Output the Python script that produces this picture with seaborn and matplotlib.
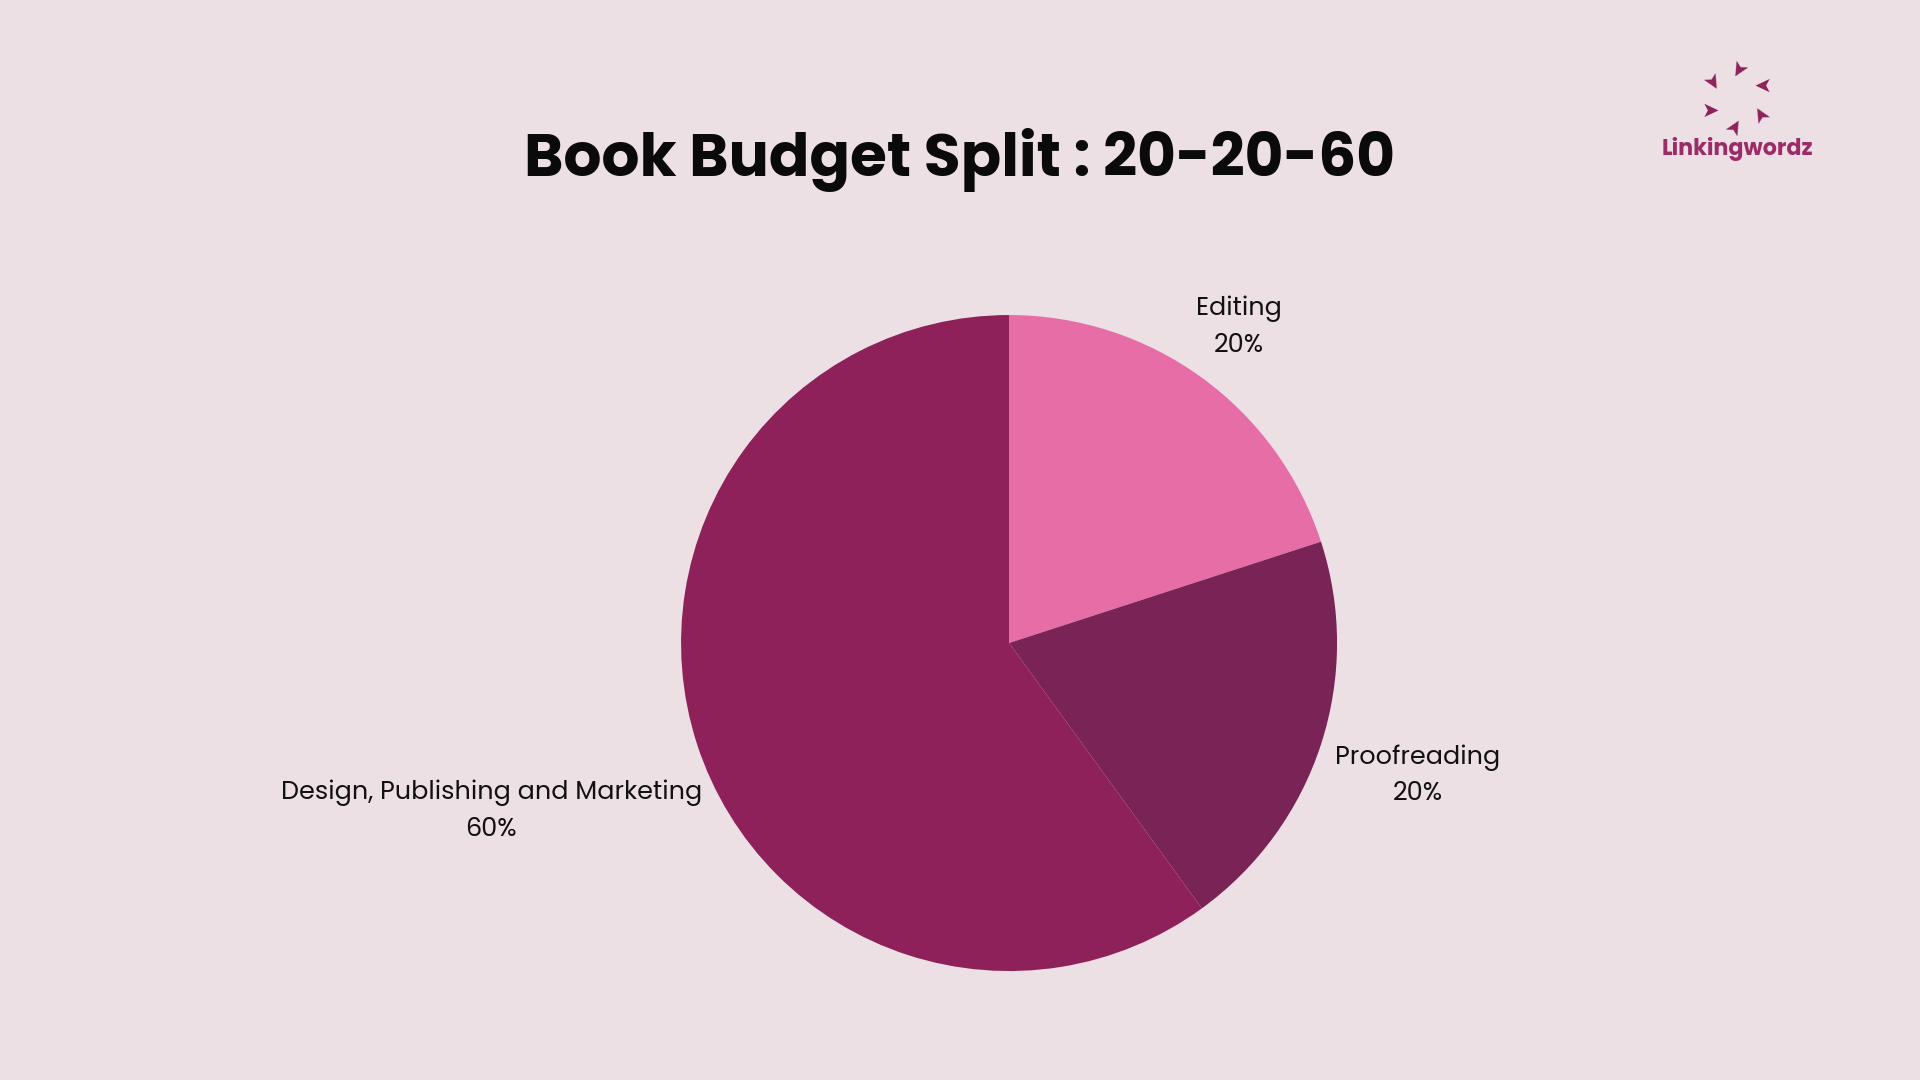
import numpy as np
import matplotlib
matplotlib.use("Agg")
import matplotlib.pyplot as plt
import seaborn as sns

categories = ["Editing", "Proofreading", "Design, Publishing and Marketing"]
values = [20, 20, 60]
colors = ["#E66DA6", "#7A2356", "#8E2159"]
label_dist = [1.19, 1.31, 1.66]

sns.set_theme(style="white")
plt.rcParams['font.family'] = ['Poppins', 'Lato', 'DejaVu Sans']
bg = "#EDE0E5"
fig = plt.figure(figsize=(19.2, 10.8), dpi=100, facecolor=bg)
ax = fig.add_axes([0.5255 - 0.1708, 0.4046 - 0.3037, 0.3417, 0.6074])
ax.set_facecolor(bg)
wedges, _ = ax.pie(values, colors=colors, startangle=90, counterclock=False,
                   wedgeprops=dict(linewidth=0))
for w, cat, v, d in zip(wedges, categories, values, label_dist):
    ang = np.deg2rad((w.theta1 + w.theta2) / 2)
    ax.text(d * np.cos(ang), d * np.sin(ang), f"{cat}\n{v}%", ha="center", va="center",
            fontsize=18.3, color="#111111", linespacing=1.55)
ax.set_xlim(-1, 1); ax.set_ylim(-1, 1); ax.set_aspect("equal")
ax.axis("off")

fig.text(0.5, 0.852, "Book Budget Split : 20-20-60", ha="center", va="center",
         fontsize=43, fontweight="bold", color="#0a0a0a")
fig.text(0.905, 0.862, "Linkingwordz", ha="center", va="center",
         fontsize=16, fontweight="bold", color="#9B2C67")
# logo arrows
for a in range(6):
    t = np.deg2rad(90 + a * 60)
    fig.text(0.9035 + 0.0145 * np.cos(t), 0.91 + 0.026 * np.sin(t),
             "➤", ha="center", va="center", fontsize=15, color="#8E2159",
             rotation=np.rad2deg(t) + 150, family=['DejaVu Sans'])
fig.savefig("out.png", dpi=100, facecolor=bg)
